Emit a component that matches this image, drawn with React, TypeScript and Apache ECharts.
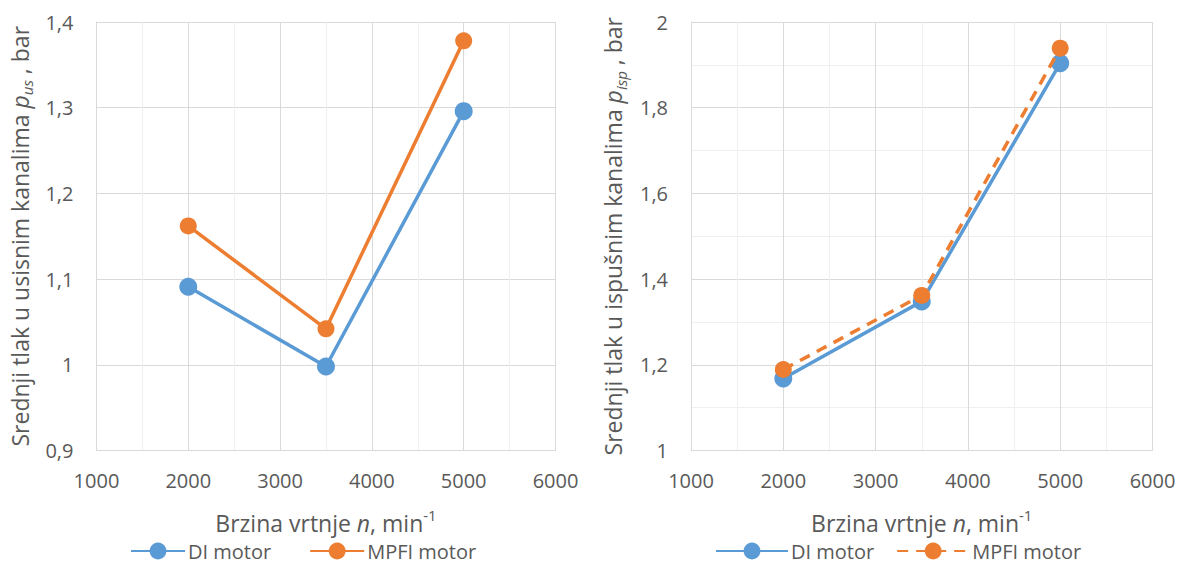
import React, { useEffect, useRef } from "react";
import * as echarts from "echarts";

const speeds = [2000, 3500, 5000];
const seriesNames = ["DI motor", "MPFI motor"];
const intakeDI = [1.091, 0.998, 1.296];
const intakeMPFI = [1.162, 1.042, 1.378];
const exhaustDI = [1.168, 1.348, 1.904];
const exhaustMPFI = [1.189, 1.362, 1.939];

const BLUE = "#5B9BD5";
const ORANGE = "#ED7D31";
const TXT = "#595959";
const FONT = "Open Sans";
const MAJOR = "#d9d9d9";
const MINOR = "#efefef";

const fmtDec = (v: number) => String(Math.round(v * 10) / 10).replace(".", ",");
const fmtInt = (v: number) => String(Math.round(v));

function pairs(xs: number[], ys: number[]) {
  return xs.map((x, i) => [x, ys[i]]);
}

function buildOption(opts: {
  gridLeft: number;
  yMin: number;
  yMax: number;
  yInterval: number;
  yMinor: boolean;
  sub: string;
  yPrefix: string;
  yNameGap: number;
  di: number[];
  mpfi: number[];
  mpfiDashed: boolean;
  legendLeft: number;
  legendGap: number;
  legendItemWidth: number;
}) {
  const T = 23;
  const xRich = {
    a: { fontSize: T, color: TXT, fontFamily: FONT, lineHeight: 30 },
    i: { fontSize: T, color: TXT, fontFamily: FONT, fontStyle: "italic" as const, lineHeight: 30 },
    sup: { fontSize: 15, color: TXT, fontFamily: FONT, verticalAlign: "top" as const, lineHeight: 30 },
  };
  const yRich = {
    a: { fontSize: T, color: TXT, fontFamily: FONT, lineHeight: 30 },
    i: { fontSize: T, color: TXT, fontFamily: FONT, fontStyle: "italic" as const, lineHeight: 30 },
    sub: {
      fontSize: 15,
      color: TXT,
      fontFamily: FONT,
      fontStyle: "italic" as const,
      verticalAlign: "bottom" as const,
      lineHeight: 24,
    },
  };
  return {
    animation: false,
    backgroundColor: "#ffffff",
    textStyle: { fontFamily: FONT, color: TXT },
    grid: { left: opts.gridLeft, top: 22, width: 461.5, height: 428.5, containLabel: false },
    legend: {
      left: opts.legendLeft,
      top: 541,
      padding: 0,
      itemWidth: opts.legendItemWidth,
      itemHeight: 21,
      itemGap: opts.legendGap,
      textStyle: { fontSize: 20, color: TXT, fontFamily: FONT, padding: [0, 0, 0, -2], lineHeight: 20 },
      data: seriesNames,
    },
    xAxis: {
      type: "value",
      min: 1000,
      max: 6000,
      interval: 1000,
      axisLine: { show: true, lineStyle: { color: MAJOR, width: 1 } },
      axisTick: { show: false },
      axisLabel: { fontSize: 20, color: TXT, fontFamily: FONT, margin: 20, formatter: fmtInt },
      splitLine: { show: true, lineStyle: { color: MAJOR, width: 1 } },
      minorTick: { show: false, splitNumber: 2 },
      minorSplitLine: { show: true, lineStyle: { color: MINOR, width: 1 } },
      name: "{a|Brzina vrtnje }{i|n}{a|, min}{sup|-1}",
      nameLocation: "middle",
      nameGap: 57,
      nameTextStyle: { rich: xRich },
    },
    yAxis: {
      type: "value",
      min: opts.yMin,
      max: opts.yMax,
      interval: opts.yInterval,
      axisLine: { show: true, lineStyle: { color: MAJOR, width: 1 } },
      axisTick: { show: false },
      axisLabel: { fontSize: 20, color: TXT, fontFamily: FONT, margin: 23, formatter: fmtDec },
      splitLine: { show: true, lineStyle: { color: MAJOR, width: 1 } },
      minorTick: { show: false, splitNumber: 2 },
      minorSplitLine: { show: opts.yMinor, lineStyle: { color: MINOR, width: 1 } },
      name: `{a|${opts.yPrefix} }{i|p}{sub|${opts.sub}}{a| , bar}`,
      nameLocation: "middle",
      nameGap: opts.yNameGap,
      nameTextStyle: { rich: yRich },
    },
    series: [
      {
        name: seriesNames[0],
        type: "line",
        data: pairs(speeds, opts.di),
        symbol: "circle",
        symbolSize: 18,
        itemStyle: { color: BLUE },
        lineStyle: { color: BLUE, width: 3.5 },
        z: 2,
      },
      {
        name: seriesNames[1],
        type: "line",
        data: pairs(speeds, opts.mpfi),
        symbol: "circle",
        symbolSize: 17,
        itemStyle: { color: ORANGE },
        lineStyle: { color: ORANGE, width: 3.5, type: opts.mpfiDashed ? [11, 8] : "solid" },
        z: 3,
      },
    ],
  };
}

function ChartBox(props: { left: number; width: number; option: any }) {
  const ref = useRef<HTMLDivElement>(null);
  useEffect(() => {
    if (!ref.current) return;
    const chart = echarts.init(ref.current, undefined, { renderer: "svg" });
    chart.setOption(props.option);
    return () => chart.dispose();
  }, []);
  return (
    <div
      ref={ref}
      style={{ position: "absolute", left: props.left, top: 0, width: props.width, height: 565 }}
    />
  );
}

export default function App() {
  const leftOpt = buildOption({
    gridLeft: 94,
    yMin: 0.9,
    yMax: 1.4,
    yInterval: 0.1,
    yMinor: false,
    sub: "us",
    yPrefix: "Srednji tlak u usisnim kanalima",
    yNameGap: 58,
    di: intakeDI,
    mpfi: intakeMPFI,
    mpfiDashed: false,
    legendLeft: 130,
    legendGap: 38,
    legendItemWidth: 54,
  });
  const rightOpt = buildOption({
    gridLeft: 101,
    yMin: 1,
    yMax: 2,
    yInterval: 0.2,
    yMinor: true,
    sub: "isp",
    yPrefix: "Srednji tlak u ispušnim kanalima",
    yNameGap: 63,
    di: exhaustDI,
    mpfi: exhaustMPFI,
    mpfiDashed: true,
    legendLeft: 125,
    legendGap: 22,
    legendItemWidth: 72,
  });
  return (
    <div
      style={{
        position: "fixed",
        left: 0,
        top: 0,
        width: 1179,
        height: 565,
        background: "#ffffff",
        overflow: "hidden",
      }}
    >
      <ChartBox left={0} width={590} option={leftOpt} />
      <ChartBox left={590} width={589} option={rightOpt} />
    </div>
  );
}
